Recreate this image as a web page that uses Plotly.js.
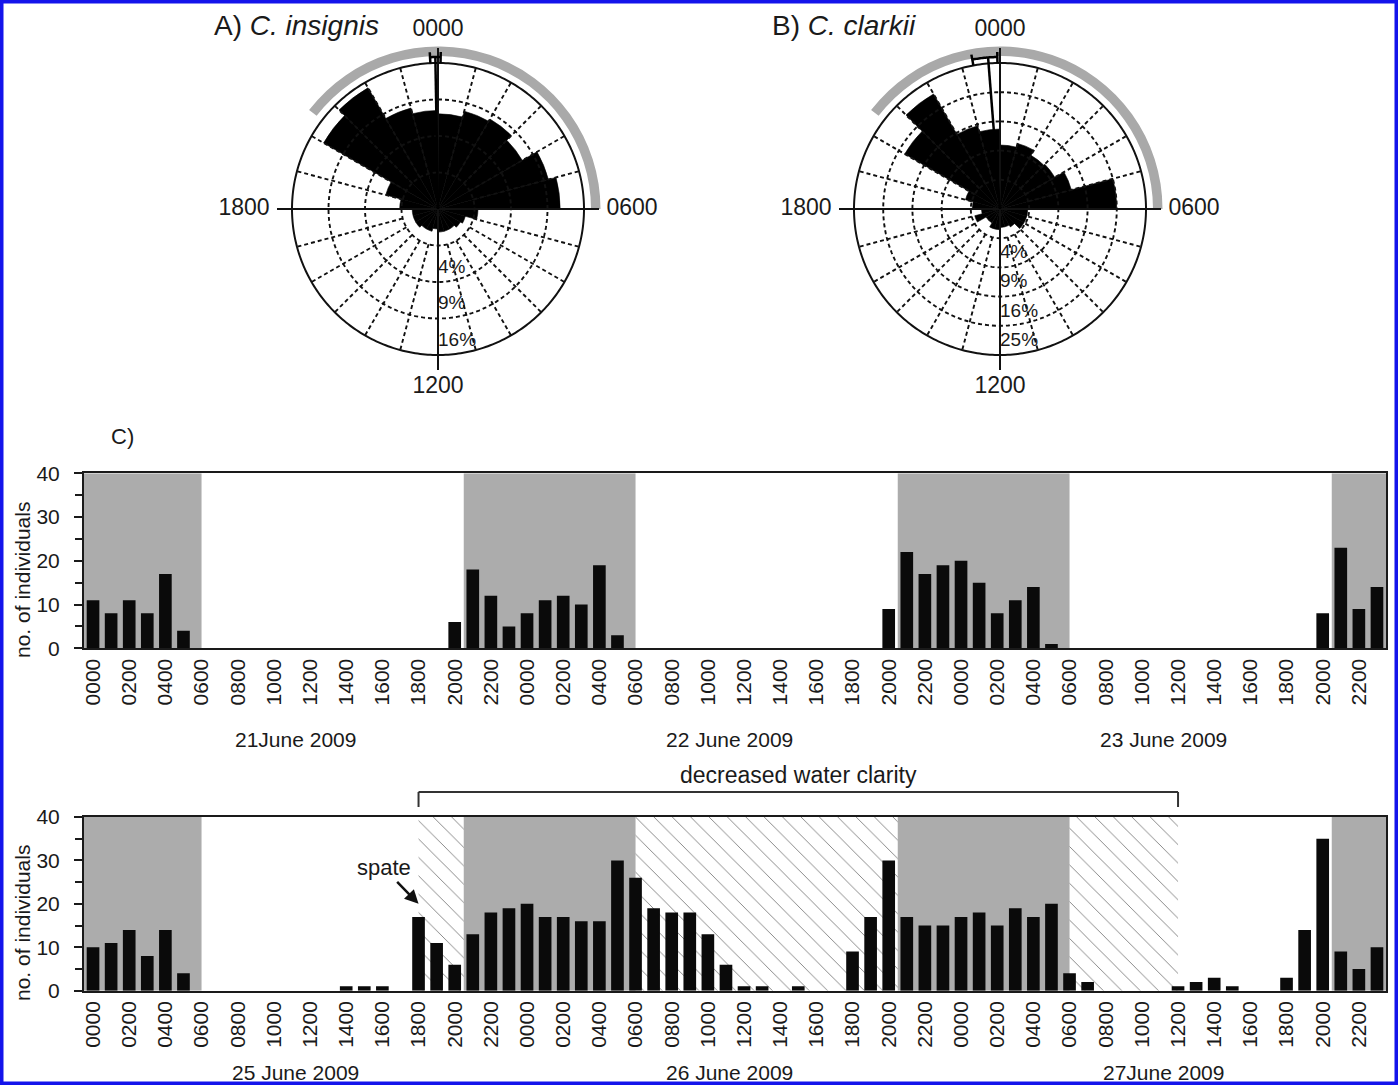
<!DOCTYPE html>
<html><head><meta charset="utf-8">
<script src="https://cdn.plot.ly/plotly-3.0.1.min.js"></script>
<style>html,body{margin:0;padding:0;background:#fff;}#chart{width:1398px;height:1085px;}</style>
</head><body><div id="chart"></div>
<script>
// ---------------- data ----------------
const hourLabels = ['0000','0100','0200','0300','0400','0500','0600','0700','0800','0900','1000','1100',
                    '1200','1300','1400','1500','1600','1700','1800','1900','2000','2100','2200','2300'];
const topDays = ['21June 2009', '22 June 2009', '23 June 2009'];
const bottomDays = ['25 June 2009', '26 June 2009', '27June 2009'];

// counts per hour (no. of individuals), 21-23 June 2009
const topDay1 = [11,8,11,8,17,4, 0,0,0,0,0,0,0,0,0,0,0,0,0,0, 6, 18,12,5];
const topDay2 = [8,11,12,10,19,3, 0,0,0,0,0,0,0,0,0,0,0,0,0,0, 9, 22,17,19];
const topDay3 = [20,15,8,11,14,1, 0,0,0,0,0,0,0,0,0,0,0,0,0,0, 8, 23,9,14];
// counts per hour, 25-27 June 2009
const botDay1 = [10,11,14,8,14,4, 0,0,0,0,0,0,0,0, 1,1,1, 0, 17,11,6,13,18,19];
const botDay2 = [20,17,17,16,16,30,26,19,18,18,13,6,1,1,0,1,0,0,9,17,30,17,15,15];
const botDay3 = [17,18,15,19,17,20,4,2,0,0,0,0,1,2,3,1,0,0,3,14,35,9,5,10];

// darkness (hour index, continuous) and decreased water clarity periods
const nightStart = [-0.5, 20.5, 44.5, 68.5];
const nightEnd   = [6, 30, 54, 71.5];
const turbidStart = [18, 30, 54];
const turbidEnd   = [20.5, 44.5, 60];

// rose diagrams: % of individuals per hour (0000-0100 ... 2300-2400)
const insignisPct = [6.8,7.7,8.1,7.1,9.8,11.2,1.2,0.6,0.5,0.4,0.4,0.4,0.3,0.4,0.4,0.5,0.5,0.5,1.1,2.2,13.1,14.7,8.2,7.3];
const clarkiiPct  = [4.8,5.4,4.5,4.7,6.4,16.0,0.9,0.9,0.9,0.5,0.4,0.4,0.5,0.5,0.3,0.3,0.8,0.4,0.9,1.5,14.2,20.7,8.7,7.5];
const ringPctA = [1, 4, 9, 16];
const ringPctB = [1, 4, 9, 16, 25];
// mean direction (deg) and confidence interval
const insignisMean = {dir: -1, lo: -3, hi: 1};
const clarkiiMean  = {dir: -4.5, lo: -10.5, hi: -1};

// ---------------- helpers ----------------
const FONT = 'Liberation Sans, Arial, Helvetica, sans-serif';
const INK = '#1a1a1a';
const W = 1398, H = 1085;
const OUTER_PX = 146, FIELD_PX = 200;
const hours = [].concat(hourLabels, hourLabels, hourLabels);
const xIdx = hours.map((_, i) => i);
const topCounts = [].concat(topDay1, topDay2, topDay3);
const botCounts = [].concat(botDay1, botDay2, botDay3);

function polarTraces(pct, ringPct, mean, sub) {
  const maxR = Math.sqrt(ringPct[ringPct.length - 1]);
  const ppu = OUTER_PX / maxR;
  const u = px => px / ppu;
  const t = [];
  const a0 = nightStart[1] * 15 - 360, a1 = nightEnd[0] * 15;
  t.push({type: 'barpolar', subplot: sub, theta: [(a0 + a1) / 2], width: [a1 - a0], base: [u(153)], r: [u(9.5)],
          marker: {color: '#a9a9a9', line: {width: 0}}});
  t.push({type: 'barpolar', subplot: sub, theta: pct.map((_, i) => (i + 0.5) * 15), r: pct.map(v => Math.sqrt(v)),
          width: pct.map(() => 15), marker: {color: '#000', line: {color: '#000', width: 0.6}}});
  const gr = [], gt = [];
  ringPct.slice(0, -1).forEach(p => { for (let a = 0; a <= 360; a += 2) { gr.push(Math.sqrt(p)); gt.push(a); } gr.push(null); gt.push(null); });
  for (let k = 0; k < 24; k++) { if (k % 6 === 0) continue; gr.push(Math.sqrt(ringPct[0]), maxR, null); gt.push(k * 15, k * 15, null); }
  t.push({type: 'scatterpolar', subplot: sub, mode: 'lines', r: gr, theta: gt, line: {color: '#111', width: 1.9, dash: '4px,3px'}});
  const sr = [], st = [];
  for (let a = 0; a <= 360; a += 1) { sr.push(maxR); st.push(a); }
  [[0, 180], [90, 270]].forEach(([p, q]) => { sr.push(null, u(161), 0, u(161)); st.push(null, p, p, q); });
  t.push({type: 'scatterpolar', subplot: sub, mode: 'lines', r: sr, theta: st, line: {color: '#111', width: 2}});
  const mr = [0, u(152), null], mt = [mean.dir, mean.dir, null];
  for (let a = mean.lo; a <= mean.hi + 1e-9; a += 0.5) { mr.push(u(152)); mt.push(a); }
  mr.push(null, u(146), u(157), null, u(146), u(157)); mt.push(null, mean.lo, mean.lo, null, mean.hi, mean.hi);
  t.push({type: 'scatterpolar', subplot: sub, mode: 'lines', r: mr, theta: mt, line: {color: '#000', width: 2.5}});
  t.push({type: 'scatterpolar', subplot: sub, mode: 'text', cliponaxis: false,
          r: [u(179), u(194), u(178), u(194)], theta: [0, 90, 180, 270],
          text: [hourLabels[0], hourLabels[6], hourLabels[12], hourLabels[18]],
          textposition: 'middle center', textfont: {family: FONT, size: 23, color: INK}});
  t.push({type: 'scatterpolar', subplot: sub, mode: 'text', cliponaxis: false,
          r: ringPct.slice(1).map(p => Math.sqrt(p) - u(14)), theta: ringPct.slice(1).map(() => 180),
          text: ringPct.slice(1).map(p => p + '%'), textposition: 'middle right',
          textfont: {family: FONT, size: 19, color: INK}});
  return {traces: t, range: u(FIELD_PX)};
}

function polarDomain(cx, cy) {
  return {x: [(cx - FIELD_PX) / W, (cx + FIELD_PX) / W], y: [1 - (cy + FIELD_PX) / H, 1 - (cy - FIELD_PX) / H]};
}

const pA = polarTraces(insignisPct, ringPctA, insignisMean, 'polar');
const pB = polarTraces(clarkiiPct, ringPctB, clarkiiMean, 'polar2');

function barTraces(counts, xa, ya, hatch) {
  const t = [];
  if (hatch) {
    t.push({type: 'bar', xaxis: xa, yaxis: ya, x: turbidStart.map((s, i) => (s + turbidEnd[i]) / 2),
            y: turbidStart.map(() => 40), width: turbidStart.map((s, i) => turbidEnd[i] - s),
            marker: {color: 'white', line: {width: 0},
                     pattern: {shape: '\\', fgcolor: '#6a6a6a', size: 13, solidity: 0.06}}});
  }
  t.push({type: 'bar', xaxis: xa, yaxis: ya, x: xIdx, y: counts, width: 0.7,
          marker: {color: '#0a0a0a', line: {width: 0}}});
  return t;
}

const data = [].concat(barTraces(topCounts, 'x', 'y', false), barTraces(botCounts, 'x2', 'y2', true), pA.traces, pB.traces);

const tickIdx = xIdx.filter(i => i % 2 === 0);
function xAxis(anchor) {
  return {domain: [84 / W, 1386 / W], range: [-0.5, 71.5], anchor: anchor, tickmode: 'array',
          tickvals: tickIdx, ticktext: tickIdx.map(i => hours[i]), tickangle: -90, ticks: '',
          ticklabelstandoff: 0, tickfont: {family: FONT, size: 21, color: INK},
          showline: true, mirror: true, linecolor: INK, linewidth: 2, showgrid: false, zeroline: false};
}
function yAxis(anchor, y0px, y40px) {
  return {domain: [1 - y0px / H, 1 - y40px / H], range: [0, 40], anchor: anchor, tickvals: [0, 10, 20, 30, 40],
          ticks: 'outside', ticklen: 8, tickwidth: 2, tickcolor: INK, ticklabelstandoff: 10,
          minor: {dtick: 5, ticks: 'outside', ticklen: 7, tickwidth: 2, tickcolor: INK, showgrid: false},
          tickfont: {family: FONT, size: 21, color: INK},
          showline: true, mirror: true, linecolor: INK, linewidth: 2, showgrid: false, zeroline: false};
}

function shade(xa, ya) {
  return nightStart.map((s, i) => ({type: 'rect', xref: xa, yref: ya, x0: s, x1: nightEnd[i], y0: 0, y1: 40,
                                    fillcolor: '#acacac', line: {width: 0}, layer: 'below'}));
}

const bracketY = 1 - 792 / H, bracketFoot = 1 - 807 / H;
const shapes = [].concat(shade('x', 'y'), shade('x2', 'y2'), [
  {type: 'line', xref: 'x2', yref: 'paper', x0: turbidStart[0], x1: turbidEnd[turbidEnd.length - 1], y0: bracketY, y1: bracketY, line: {color: '#333', width: 2}},
  {type: 'line', xref: 'x2', yref: 'paper', x0: turbidStart[0], x1: turbidStart[0], y0: bracketY, y1: bracketFoot, line: {color: '#333', width: 2}},
  {type: 'line', xref: 'x2', yref: 'paper', x0: turbidEnd[turbidEnd.length - 1], x1: turbidEnd[turbidEnd.length - 1], y0: bracketY, y1: bracketFoot, line: {color: '#333', width: 2}},
  {type: 'rect', xref: 'paper', yref: 'paper', x0: 0, x1: 1, y0: 0, y1: 1, line: {color: 'rgb(20,20,235)', width: 7}, layer: 'above'}
]);

const ann = [];
const tf = (s) => ({family: FONT, size: s, color: INK});
const A = (o) => Object.assign({xanchor: 'center', yanchor: 'middle', showarrow: false}, o);
ann.push(A({xref: 'paper', yref: 'paper', x: 296 / W, y: 1 - 25 / H, text: 'A) <i>C. insignis</i>', font: tf(28)}));
ann.push(A({xref: 'paper', yref: 'paper', x: 844 / W, y: 1 - 25 / H, text: 'B) <i>C. clarkii</i>', font: tf(28)}));
ann.push(A({xref: 'paper', yref: 'paper', x: 122 / W, y: 1 - 437 / H, text: 'C)', font: tf(22)}));
topDays.forEach((d, i) => ann.push(A({xref: 'x', yref: 'paper', x: 24 * i + 11.2, y: 1 - 739 / H, text: d, font: tf(21)})));
bottomDays.forEach((d, i) => ann.push(A({xref: 'x2', yref: 'paper', x: 24 * i + 11.2, y: 1 - 1072 / H, text: d, font: tf(21)})));
ann.push(A({xref: 'paper', yref: 'paper', x: 22 / W, y: 1 - 580 / H, text: 'no. of individuals', textangle: -90, font: tf(21)}));
ann.push(A({xref: 'paper', yref: 'paper', x: 22 / W, y: 1 - 923 / H, text: 'no. of individuals', textangle: -90, font: tf(21)}));
ann.push(A({xref: 'x2', yref: 'paper', x: (turbidStart[0] + turbidEnd[turbidEnd.length - 1]) / 2, y: 1 - 775 / H,
          text: 'decreased water clarity', font: tf(23)}));
ann.push({xref: 'x2', yref: 'y2', x: turbidStart[0], y: 20, ax: -35, ay: -36, text: 'spate', showarrow: true,
          arrowhead: 2, arrowsize: 1.1, arrowwidth: 2.5, arrowcolor: '#111', font: tf(22)});

const layout = {
  width: W, height: H, margin: {l: 0, r: 0, t: 0, b: 0}, showlegend: false, hovermode: false,
  paper_bgcolor: '#fff', plot_bgcolor: '#fff', barmode: 'overlay', font: {family: FONT, color: INK},
  xaxis: xAxis('y'), yaxis: yAxis('x', 648.3, 473.3),
  xaxis2: xAxis('y2'), yaxis2: yAxis('x2', 990.7, 817),
  polar: {domain: polarDomain(438, 209), bgcolor: 'rgba(0,0,0,0)',
          radialaxis: {visible: false, range: [0, pA.range]},
          angularaxis: {visible: false, rotation: 90, direction: 'clockwise'}},
  polar2: {domain: polarDomain(1000, 209), bgcolor: 'rgba(0,0,0,0)',
           radialaxis: {visible: false, range: [0, pB.range]},
           angularaxis: {visible: false, rotation: 90, direction: 'clockwise'}},
  shapes: shapes, annotations: ann
};

Plotly.newPlot('chart', data, layout, {staticPlot: true, displayModeBar: false});
</script></body></html>
